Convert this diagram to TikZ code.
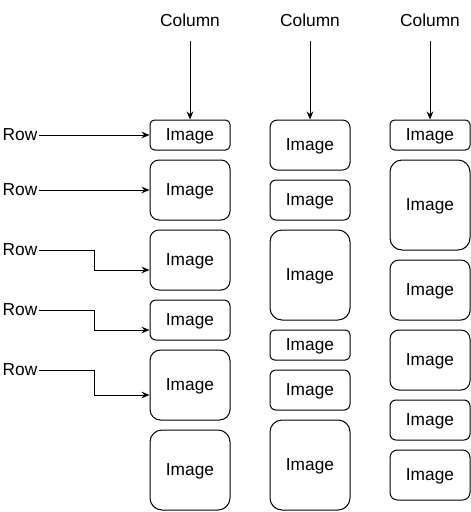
\documentclass[tikz,border=0pt]{standalone}
\usepackage{fontspec}
\setmainfont{Liberation Sans}
\usepackage{tikz}
\usetikzlibrary{arrows.meta,calc}

\begin{document}
\begin{tikzpicture}[x=0.75pt, y=-0.75pt, line width=0.75pt,
		>={Stealth[length=6pt,width=5pt,inset=2pt]},
		every node/.style={font=\fontsize{13}{15}\selectfont},
		img/.style={draw, rounded corners=#1, minimum width=60pt, inner sep=0pt, text depth=0pt},
		lbl/.style={inner sep=0.75pt}]
		\useasboundingbox (0,0) rectangle (471,512);
		
		\node[lbl, minimum height=30pt] (col1) at (190, 20) {Column};
		\node[lbl, minimum height=30pt] (col2) at (310, 20) {Column};
		\node[lbl, minimum height=30pt] (col3) at (430, 20) {Column};
		
		\node[lbl] (r1) at (20, 135) {Row};
		\node[lbl] (r2) at (20, 190) {Row};
		\node[lbl] (r3) at (20, 250) {Row};
		\node[lbl] (r4) at (20, 310) {Row};
		\node[lbl] (r5) at (20, 370) {Row};
		
		\node[img=3.4pt, minimum height=22.5pt] (a1) at (190, 135) {Image};
		\node[img=6.75pt, minimum height=45pt] (a2) at (190, 190) {Image};
		\node[img=6.75pt, minimum height=45pt] (a3) at (190, 260) {Image};
		\node[img=4.5pt, minimum height=30pt] (a4) at (190, 320) {Image};
		\node[img=7.9pt, minimum height=52.5pt] (a5) at (190, 385) {Image};
		\node[img=9pt, minimum height=60pt] (a6) at (190, 470) {Image};
		
		\node[img=5.6pt, minimum height=37.5pt] (b1) at (310, 145) {Image};
		\node[img=4.5pt, minimum height=30pt] (b2) at (310, 200) {Image};
		\node[img=9pt, minimum height=67.5pt] (b3) at (310, 275) {Image};
		\node[img=3.4pt, minimum height=22.5pt] (b4) at (310, 345) {Image};
		\node[img=4.5pt, minimum height=30pt] (b5) at (310, 390) {Image};
		\node[img=9pt, minimum height=67.5pt] (b6) at (310, 465) {Image};
		
		\node[img=3.4pt, minimum height=22.5pt] (c1) at (430, 135) {Image};
		\node[img=9pt, minimum height=67.5pt] (c2) at (430, 205) {Image};
		\node[img=6.75pt, minimum height=45pt] (c3) at (430, 290) {Image};
		\node[img=6.75pt, minimum height=45pt] (c4) at (430, 360) {Image};
		\node[img=4.5pt, minimum height=30pt] (c5) at (430, 420) {Image};
		\node[img=5.6pt, minimum height=37.5pt] (c6) at (430, 475) {Image};
		
		\draw[->] (col1) -- (a1);
		\draw[->] (col2) -- (b1);
		\draw[->] (col3) -- (c1);
		
		\draw[->] (r1) -- (a1);
		\draw[->] (r2) -- (a2);
		\draw[->] (r3.east) -| ($(a3.west)+(-55,10)$) -- ($(a3.west)+(0,10)$);
		\draw[->] (r4.east) -| ($(a4.west)+(-55,10)$) -- ($(a4.west)+(0,10)$);
		\draw[->] (r5.east) -| ($(a5.west)+(-55,10)$) -- ($(a5.west)+(0,10)$);
	\end{tikzpicture}
\end{document}
